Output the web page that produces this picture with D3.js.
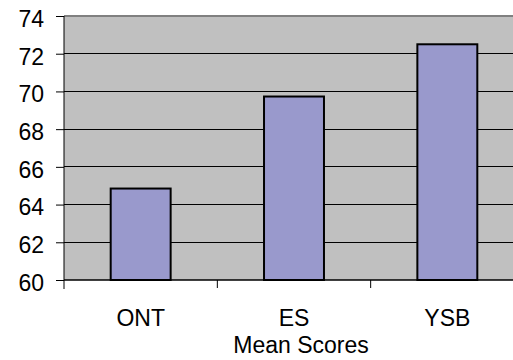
<!DOCTYPE html>
<html>
<head>
<meta charset="utf-8">
<script src="https://cdn.jsdelivr.net/npm/d3@7"></script>
<style>
  html, body { margin: 0; padding: 0; background: #fff; }
  svg { display: block; font-family: "Liberation Sans", Arial, sans-serif; }
</style>
</head>
<body>
<svg id="chart" width="513" height="360"></svg>
<script>
// Mean scores by group
const categories = ["ONT", "ES", "YSB"];
const meanScores = [64.85, 69.73, 72.5];
const yTicks = [60, 62, 64, 66, 68, 70, 72, 74];
const xTitle = "Mean Scores";

const svg = d3.select("#chart");
const plot = { left: 64, top: 16, bottom: 280, right: 524 };

const x = d3.scaleBand()
  .domain(categories)
  .range([plot.left, plot.right])
  .paddingInner(0.609)
  .paddingOuter(0.3045);

const y = d3.scaleLinear().domain([60, 74]).range([plot.bottom, plot.top]);

// plot area background
svg.append("rect")
  .attr("x", plot.left).attr("y", plot.top)
  .attr("width", plot.right - plot.left).attr("height", plot.bottom - plot.top)
  .attr("fill", "#c0c0c0");

// horizontal gridlines
svg.append("g").selectAll("line")
  .data(yTicks.filter(t => t > 60 && t < 74))
  .join("line")
  .attr("x1", plot.left).attr("x2", plot.right)
  .attr("y1", d => y(d)).attr("y2", d => y(d))
  .attr("stroke", "#000").attr("stroke-width", 1)
  .attr("shape-rendering", "crispEdges");

// plot area top border
svg.append("line")
  .attr("x1", plot.left).attr("x2", plot.right)
  .attr("y1", y(74)).attr("y2", y(74))
  .attr("stroke", "#808080").attr("stroke-width", 2);

// bars
svg.append("g").selectAll("rect")
  .data(categories.map((c, i) => ({ c, v: meanScores[i] })))
  .join("rect")
  .attr("x", d => x(d.c))
  .attr("y", d => y(d.v))
  .attr("width", x.bandwidth())
  .attr("height", d => y(60) - y(d.v))
  .attr("fill", "#9999cc")
  .attr("stroke", "#000")
  .attr("stroke-width", 2);

// y axis
const yAxis = d3.axisLeft(y).tickValues(yTicks).tickSize(8).tickPadding(12).tickFormat(d3.format("d"));
const gy = svg.append("g").attr("transform", `translate(${plot.left},0)`).call(yAxis);
gy.select(".domain").attr("d", `M0,${plot.top}V${plot.bottom + 9}`).attr("stroke", "#000");
gy.selectAll(".tick line").attr("stroke", "#000");
gy.selectAll(".tick text")
  .attr("font-size", 23).attr("fill", "#000")
  .attr("font-family", "'Liberation Sans', Arial, sans-serif")
  .attr("dy", "0.45em");

// x axis line
svg.append("line")
  .attr("x1", plot.left).attr("x2", plot.right)
  .attr("y1", plot.bottom).attr("y2", plot.bottom)
  .attr("stroke", "#000").attr("stroke-width", 1.5);

// x ticks at category boundaries
const gap = (x.step() - x.bandwidth()) / 2;
const bounds = categories.map(c => x(c) - gap).concat([x(categories[categories.length - 1]) + x.bandwidth() + gap]);
svg.append("g").selectAll("line")
  .data(bounds.slice(1))
  .join("line")
  .attr("x1", d => d).attr("x2", d => d)
  .attr("y1", plot.bottom).attr("y2", plot.bottom + 8)
  .attr("stroke", "#000");

// category labels
svg.append("g").selectAll("text")
  .data(categories)
  .join("text")
  .attr("x", d => x(d) + x.bandwidth() / 2)
  .attr("y", 326)
  .attr("text-anchor", "middle")
  .attr("font-size", 23)
  .text(d => d);

// axis title
svg.append("text")
  .attr("x", 301).attr("y", 353)
  .attr("text-anchor", "middle")
  .attr("font-size", 23)
  .text(xTitle);
</script>
</body>
</html>
